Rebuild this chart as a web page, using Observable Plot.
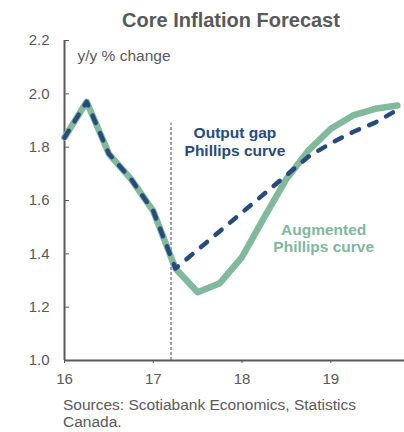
<!DOCTYPE html>
<html>
<head>
<meta charset="utf-8">
<script src="https://cdn.jsdelivr.net/npm/d3@7"></script>
<script src="https://cdn.jsdelivr.net/npm/@observablehq/plot@0.6"></script>
<style>
  html, body { margin: 0; padding: 0; background: #fff; }
  body { width: 404px; height: 432px; overflow: hidden; font-family: "Liberation Sans", Arial, sans-serif; color: #595959; }
  #title { height: 20px; padding-top: 10px; padding-left: 58px; font-weight: bold; font-size: 20px; line-height: 20px; text-align: center; white-space: nowrap; }
  #caption { padding-top: 6px; padding-left: 63px; font-size: 15.5px; line-height: 17px; }
  #chart svg { display: block; }
</style>
</head>
<body>
<div id="title">Core Inflation Forecast</div>
<div id="chart"></div>
<div id="caption">Sources: Scotiabank Economics, Statistics<br>Canada.</div>
<script>
// Quarterly observations / forecasts (year, 2-digit)
const quarters = [16, 16.25, 16.5, 16.75, 17, 17.25, 17.5, 17.75, 18, 18.25, 18.5, 18.75, 19, 19.25, 19.5, 19.75];
const augmentedPhillips = [1.836, 1.97, 1.775, 1.68, 1.56, 1.345, 1.256, 1.29, 1.388, 1.537, 1.681, 1.788, 1.869, 1.919, 1.944, 1.956];
const outputGapPhillips = [1.836, 1.97, 1.775, 1.68, 1.56, 1.345, 1.415, 1.485, 1.555, 1.625, 1.695, 1.765, 1.815, 1.857, 1.892, 1.94];
const xTicks = [16, 17, 18, 19];
const yTicks = [1.0, 1.2, 1.4, 1.6, 1.8, 2.0, 2.2];
const forecastStart = [17.2];
const unitLabel = "y/y % change";
const seriesLabels = ["Output gap\nPhillips curve", "Augmented\nPhillips curve"];

const navy = "#264B7C";
const green = "#80B99B";
const grey = "#595959";

const aug = quarters.map((q, i) => ({x: q, y: augmentedPhillips[i]}));
const gap = quarters.map((q, i) => ({x: q, y: outputGapPhillips[i]}));

const chart = Plot.plot({
  width: 404,
  height: 360,
  marginLeft: 64,
  marginRight: 0,
  marginTop: 10,
  marginBottom: 30,
  style: {fontFamily: "'Liberation Sans', Arial, sans-serif", fontSize: "15px", color: grey, background: "transparent", overflow: "visible"},
  x: {domain: [16, 19.83]},
  y: {domain: [1.0, 2.2]},
  marks: [
    Plot.axisX({ticks: xTicks, tickSize: 3, tickPadding: 10, tickFormat: d => String(d), label: null, stroke: grey, fill: grey}),
    Plot.axisY({ticks: yTicks, tickSize: 5, dx: 5, tickPadding: 15, tickFormat: d3.format(".1f"), label: null, stroke: grey, fill: grey}),
    Plot.ruleX([16], {stroke: grey, strokeWidth: 2}),
    Plot.ruleY([1.0], {stroke: grey, strokeWidth: 2}),
    Plot.ruleX(forecastStart, {y1: 1.0, y2: 1.89, stroke: "#666", strokeWidth: 1.2, strokeDasharray: "3,2"}),
    Plot.text([unitLabel], {frameAnchor: "top-left", dx: 13, dy: 9, fill: grey, fontSize: 15.5, textAnchor: "start"}),
    Plot.line(aug, {x: "x", y: "y", stroke: green, strokeWidth: 6.5, strokeLinejoin: "round"}),
    Plot.line(gap, {x: "x", y: "y", stroke: navy, strokeWidth: 4.5, strokeDasharray: "8,11", strokeLinecap: "round", strokeLinejoin: "round"}),
    Plot.text([seriesLabels[0]], {x: 17.92, y: 1.821, fill: navy, fontWeight: "bold", fontSize: 15.5, lineHeight: 1.15, textAnchor: "middle"}),
    Plot.text([seriesLabels[1]], {x: 18.92, y: 1.459, fill: green, fontWeight: "bold", fontSize: 15.5, lineHeight: 1.1, textAnchor: "middle"})
  ]
});
document.getElementById("chart").appendChild(chart);
</script>
</body>
</html>
